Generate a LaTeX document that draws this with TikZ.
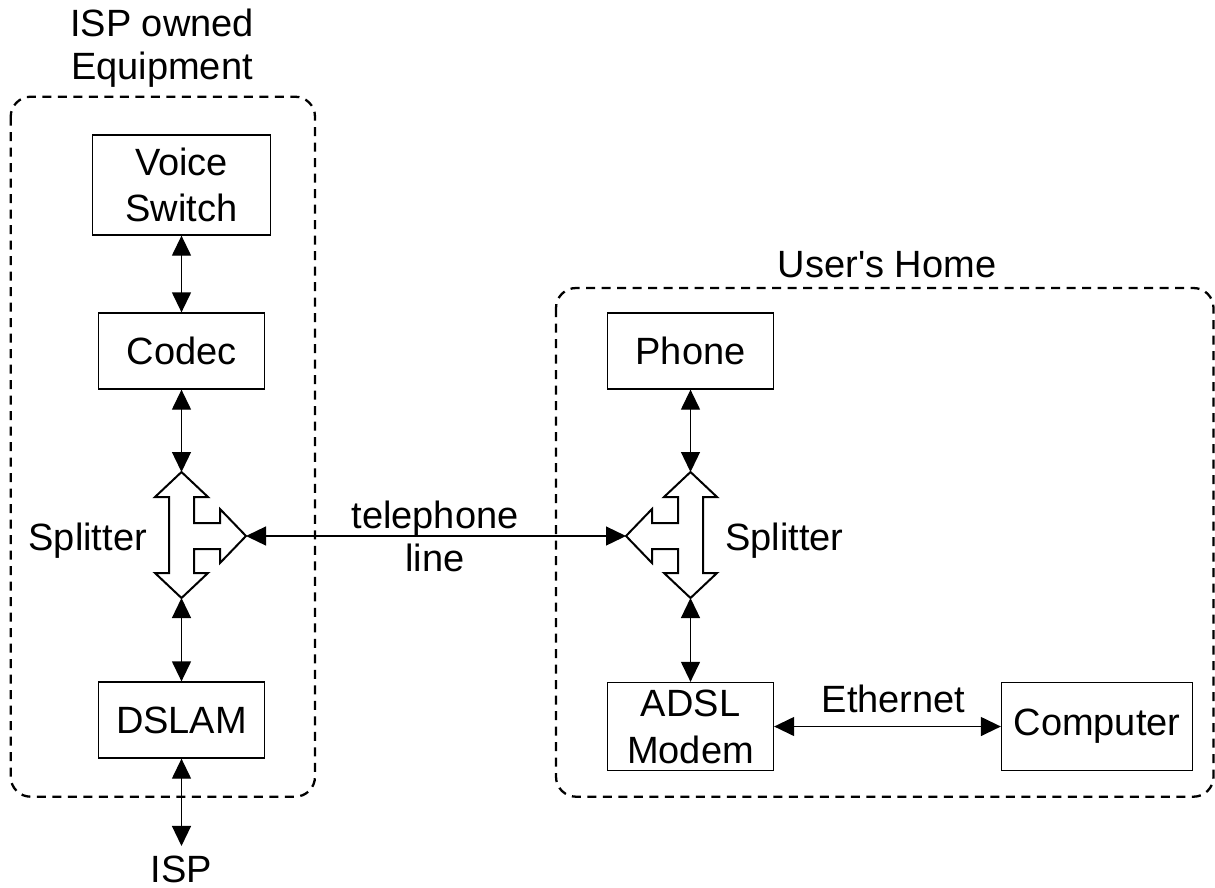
\documentclass[tikz,border=0pt]{standalone}
\usepackage{fontspec}
\setmainfont{Liberation Sans}
\usetikzlibrary{arrows.meta}
\begin{document}
\begin{tikzpicture}[x=1pt,y=-1pt,
  every node/.style={font=\fontsize{38}{46}\selectfont, inner sep=0pt},
  box/.style={draw, line width=1.3pt, align=center},
  dbox/.style={draw, line width=2.3pt, dash pattern=on 9pt off 6.5pt, rounded corners=20pt},
  link/.style={line width=1.3pt, {Triangle[length=20pt,width=19pt]}-{Triangle[length=20pt,width=19pt]}},
  split/.style={draw, line width=2pt, line join=miter, fill=white}]
\useasboundingbox (0,0) rectangle (1215,887);

% dashed groups
\draw[dbox] (10.7,96.7) rectangle (315,796.7);
\draw[dbox] (556,288) rectangle (1213.5,796.7);

% boxes
\node[box, minimum width=178pt, minimum height=100pt] (vs) at (181.5,185) {Voice\\Switch};
\node[box, minimum width=166pt, minimum height=76pt] (codec) at (181.5,351) {Codec};
\node[box, minimum width=166pt, minimum height=76pt] (dslam) at (181.5,720) {DSLAM};
\node[box, minimum width=166pt, minimum height=76pt] (phone) at (690.5,351) {Phone};
\node[box, minimum width=166pt, minimum height=88pt, font=\fontsize{38}{47}\selectfont] (adsl) at (690.5,726.5) {ADSL\\Modem};
\node[box, minimum width=191pt, minimum height=88pt] (comp) at (1097,726.5) {Computer};

% splitters
\draw[split] (181.5,472) coordinate (lt) -- (208,497) -- (194,497) -- (194,523) -- (220,523) -- (220,509)
  -- (246,536) coordinate (lr) -- (220,563) -- (220,549) -- (194,549) -- (194,573) -- (208,573)
  -- (181.5,598) coordinate (lb) -- (155,573) -- (169,573) -- (169,497) -- (155,497) -- cycle;
\draw[split] (690.5,472) coordinate (rt) -- (717,497) -- (703,497) -- (703,573) -- (717,573)
  -- (690.5,598) coordinate (rb) -- (664,573) -- (678,573) -- (678,549) -- (652,549) -- (652,563)
  -- (626,536) coordinate (rl) -- (652,509) -- (652,523) -- (678,523) -- (678,497) -- (664,497) -- cycle;

% labels
\node[align=center, font=\fontsize{38}{43}\selectfont] (ispeq) at (162,48.5) {ISP owned\\Equipment};
\node[anchor=base] (uh) at (887,277) {User\textquotesingle s Home};
\node[anchor=base east] (lsl) at (147,550) {Splitter};
\node[anchor=base west] (rsl) at (725,550) {Splitter};
\node[align=center, font=\fontsize{38}{43}\selectfont] (tel) at (435,536) {telephone\\line};
\node[anchor=base] (eth) at (893.5,712) {Ethernet};
\node[anchor=base, outer sep=9.5pt] (isp) at (181.5,882) {ISP};

% connectors
\draw[link] (vs.south) -- (codec.north);
\draw[link] (codec.south) -- (lt);
\draw[link] (lb) -- (dslam.north);
\draw[link] (dslam.south) -- (isp.north);
\draw[link] (lr) -- (rl);
\draw[link] (phone.south) -- (rt);
\draw[link] (rb) -- (adsl.north);
\draw[link] (adsl.east) -- (comp.west);
\end{tikzpicture}
\end{document}
